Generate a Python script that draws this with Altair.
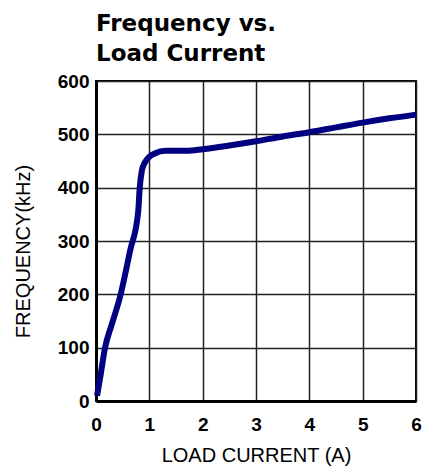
import altair as alt
import pandas as pd

current_a = [0.02, 0.08, 0.17, 0.30, 0.45, 0.64, 0.79, 0.82, 0.86, 0.92, 1.00, 1.10, 1.30, 1.70, 2.00, 2.50, 3.00, 3.50, 4.00, 4.50, 5.00, 5.50, 6.00]
freq_khz = [10, 45, 100, 145, 195, 282, 354, 400, 432, 448, 458, 464, 469, 469, 472, 479, 487, 496, 504, 513, 522, 530, 537]

df = pd.DataFrame({"x": current_a, "y": freq_khz})

FONT = "Liberation Sans"

chart = alt.Chart(df).mark_line(
    color="#000080", strokeWidth=6, interpolate="monotone", strokeCap="butt"
).encode(
    x=alt.X("x:Q", scale=alt.Scale(domain=[0, 6], nice=False),
            axis=alt.Axis(title="LOAD CURRENT (A)", values=[0, 1, 2, 3, 4, 5, 6],
                          format="d", tickSize=0, labelPadding=14,
                          titlePadding=11, labelFlush=False)),
    y=alt.Y("y:Q", scale=alt.Scale(domain=[0, 600], nice=False),
            axis=alt.Axis(title="FREQUENCY(kHz)", values=[0, 100, 200, 300, 400, 500, 600],
                          format="d", tickSize=0, labelPadding=7, labelFlush=False,
                          titleX=-67, titleY=170, titleAngle=-90,
                          titleAlign="center", titleBaseline="alphabetic")),
).properties(
    width=320,
    height=320,
    title=alt.TitleParams(
        text=["Frequency vs.", "Load Current"],
        anchor="start", frame="group", fontSize=23, font="DejaVu Sans", fontWeight="bold",
        lineHeight=30, offset=6, color="black",
    ),
    autosize=alt.AutoSizeParams(type="none"),
    padding={"left": 88, "top": 73, "right": 16, "bottom": 68},
).configure_view(
    stroke="black", strokeWidth=2
).configure_axis(
    labelFont=FONT, labelFontSize=19, labelFontWeight="bold", labelColor="black",
    titleFont=FONT, titleFontSize=20, titleFontWeight="normal", titleColor="black",
    grid=True, gridColor="#222222", gridWidth=1.5, gridOpacity=1,
    domainColor="black", domainWidth=3,
)

chart.save("out.html", embed_options={"renderer": "svg", "actions": False})
